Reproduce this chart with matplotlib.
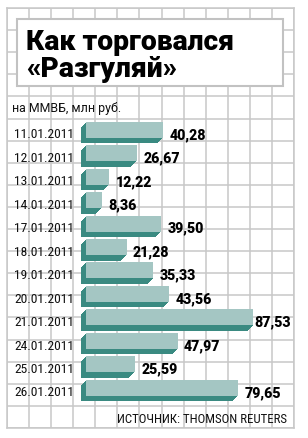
import numpy as np
import matplotlib
matplotlib.use("Agg")
import matplotlib.pyplot as plt
from matplotlib.patches import Rectangle
from matplotlib.transforms import ScaledTranslation

# ---- data ----
dates = ["11.01.2011", "12.01.2011", "13.01.2011", "14.01.2011", "17.01.2011",
         "18.01.2011", "19.01.2011", "20.01.2011", "21.01.2011", "24.01.2011",
         "25.01.2011", "26.01.2011"]
values = [40.28, 26.67, 12.22, 8.36, 39.50, 21.28, 35.33, 43.56, 87.53, 47.97,
          25.59, 79.65]
title_lines = ["Как торговался", "«Разгуляй»"]
subtitle = "на ММВБ, млн руб."
source = "ИСТОЧНИК: THOMSON REUTERS"

# ---- style ----
W, H, DPI = 308, 439, 100
GRID = "#c8c8c8"
BOX_EDGE = "#c2c2c2"
LIGHT = "#a4c6c3"
DARK = "#3a8a81"
D = 5.5            # depth of the 3D extrusion, px

fig = plt.figure(figsize=(W / DPI, H / DPI), dpi=DPI)
fig.patch.set_facecolor("white")


def fx(px):
    return px / W


def fy(py):
    return 1 - py / H


# background grid (decorative)
gax = fig.add_axes([fx(7), fy(429), fx(294 - 7), (429 - 9) / H], zorder=0)
gax.set_xlim(0, 13)
gax.set_ylim(0, 19)
gax.set_xticks(np.arange(14))
gax.set_yticks(np.arange(20))
gax.grid(True, color=GRID, linewidth=1.1)
gax.tick_params(length=0, labelbottom=False, labelleft=False)
for s in gax.spines.values():
    s.set_color(GRID)
    s.set_linewidth(1.1)

# title box
fig.add_artist(Rectangle((fx(17), fy(87)), fx(283 - 17), (87 - 20) / H,
                         transform=fig.transFigure, facecolor="white",
                         edgecolor=BOX_EDGE, linewidth=1.5, zorder=1))
fig.text(fx(26), fy(50), title_lines[0], fontsize=20.3, fontfamily="Roboto",
         fontweight=900, va="baseline", ha="left", color="black", zorder=3)
fig.text(fx(26), fy(77), title_lines[1], fontsize=20.3, fontfamily="Roboto",
         fontweight=900, va="baseline", ha="left", color="black", zorder=3)

fig.text(fx(12), fy(112), subtitle, fontsize=8.9, fontfamily="Roboto",
         va="baseline", ha="left", color="#111111", zorder=3)
fig.text(fx(287), fy(423), source, fontsize=9.3, fontfamily="Roboto Condensed",
         va="baseline", ha="right", color="#111111", zorder=3)

# bars axes
n = len(values)
row_px = 23.45
top_px = 133.5 - row_px / 2
bot_px = top_px + n * row_px
px_per_unit = 1.908
ax = fig.add_axes([fx(86), fy(bot_px), fx(208), (bot_px - top_px) / H], zorder=2)
ax.patch.set_alpha(0)

y = np.arange(n)
face_h = 16 / row_px
for k in np.arange(D, 0, -0.5):
    tr = ax.transData + ScaledTranslation(-k / DPI, (D / 2 - k) / DPI, fig.dpi_scale_trans)
    ax.barh(y, values, height=face_h, color=DARK, linewidth=0, transform=tr,
            clip_on=False)
ax.barh(y, values, height=face_h, color=LIGHT, linewidth=0,
        transform=ax.transData + ScaledTranslation(0, D / 2 / DPI, fig.dpi_scale_trans),
        clip_on=False)

vmax = max(values)
for i, v in enumerate(values):
    gap = 0.8 if v == vmax else 4.6
    ax.annotate(f"{v:.2f}".replace(".", ","), xy=(v, i), xytext=(gap, 0),
                textcoords="offset points", ha="left", va="center_baseline",
                fontsize=10.2, fontfamily="Roboto", fontweight=900, color="black",
                annotation_clip=False)

ax.set_yticks(y, labels=dates, fontfamily="Roboto Condensed", fontsize=9.7,
              va="center_baseline", color="#111111")
ax.tick_params(axis="y", length=0, pad=8.4)
ax.set_xticks([])
for s in ax.spines.values():
    s.set_visible(False)
ax.set_xlim(0, 208 / px_per_unit)
ax.set_ylim(n - 0.5, -0.5)

fig.savefig("out.png", dpi=DPI)
